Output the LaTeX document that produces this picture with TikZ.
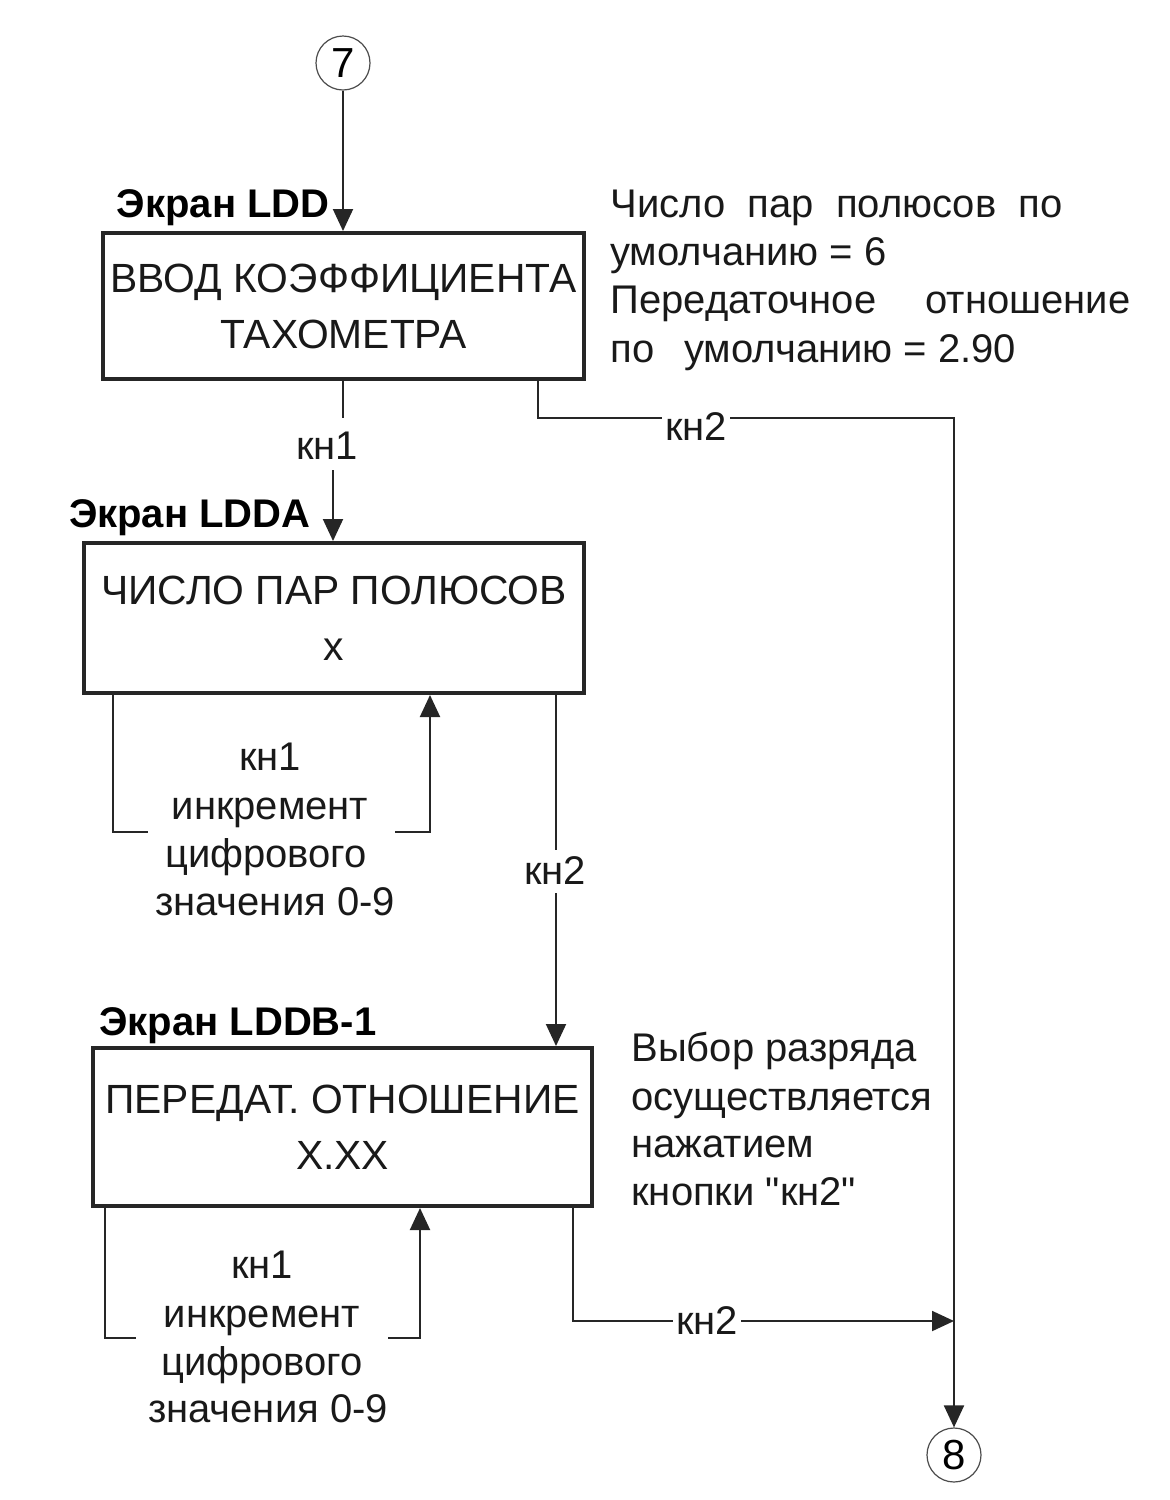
\documentclass[tikz,border=0pt]{standalone}
\usepackage{fontspec}
\setmainfont{Liberation Sans}[Ligatures=TeXOff]
\usetikzlibrary{arrows.meta}
\begin{document}
\begin{tikzpicture}[x=0.5pt,y=-0.5pt,
  conn/.style={draw=black!85, line width=1pt},
  arr/.style={-{Triangle[length=11pt,width=10pt]}},
  box/.style={draw=black!85, line width=2pt, rectangle, align=center,
    font=\fontsize{20.4pt}{28pt}\selectfont, inner sep=0pt, text=black!90},
  circ/.style={circle, draw=black!70, line width=0.6pt, minimum size=27pt,
    inner sep=0pt, font=\fontsize{21pt}{24pt}\selectfont},
  txt/.style={font=\fontsize{20pt}{24pt}\selectfont, inner sep=0pt, text=black!90},
  lbl/.style={txt, fill=white, inner sep=1.5pt},
  scr/.style={font=\bfseries\fontsize{20pt}{24pt}\selectfont, inner sep=0pt},
]
\useasboundingbox (0,0) rectangle (1170,1500);

% connector circles
\node[circ] (c7) at (343,63) {7};
\node[circ] (c8) at (954,1455) {8};

% boxes
\node[box, minimum width=240.5pt, minimum height=73pt] (b1) at (343.5,306)
  {ВВОД КОЭФФИЦИЕНТА\\ТАХОМЕТРА};
\node[box, minimum width=250pt, minimum height=75pt] (b2) at (334,618)
  {ЧИСЛО ПАР ПОЛЮСОВ\\x};
\node[box, minimum width=249.5pt, minimum height=79pt] (b3) at (342.5,1127)
  {ПЕРЕДАТ. ОТНОШЕНИЕ\\X.XX};

% screen titles
\node[scr, anchor=base east] (s1) at (330,217) {Экран LDD};
\node[scr, anchor=base east] (s2) at (311,527) {Экран LDDA};
\node[scr, anchor=base west] (s3) at (99,1035) {Экран LDDB-1};

% annotation 1
\node[txt, anchor=base west] (n1) at (610,217) {\makebox[226pt][s]{Число пар полюсов по}};
\node[txt, anchor=base west] (n2) at (610,265) {умолчанию = 6};
\node[txt, anchor=base west] (n3) at (610,313) {\makebox[260pt][s]{Передаточное отношение}};
\node[txt, anchor=base west] (n4) at (610,362) {по\hspace{15pt}умолчанию = 2.90};

% annotation 2
\node[txt, anchor=base west] (m1) at (631,1061) {Выбор разряда};
\node[txt, anchor=base west] (m2) at (631,1110) {осуществляется};
\node[txt, anchor=base west] (m3) at (631,1157) {нажатием};
\node[txt, anchor=base west] (m4) at (631,1205) {кнопки "кн2"};

% loop texts under box 2
\node[txt, anchor=base] (a1) at (270,770) {кн1};
\node[txt, anchor=base] (a2) at (270,819) {инкремент};
\node[txt, anchor=base] (a3) at (266,867) {цифрового};
\node[txt, anchor=base] (a4) at (275,915) {значения 0-9};

% loop texts under box 3
\node[txt, anchor=base] (d1) at (262,1278) {кн1};
\node[txt, anchor=base] (d2) at (262,1327) {инкремент};
\node[txt, anchor=base] (d3) at (262,1375) {цифрового};
\node[txt, anchor=base] (d4) at (268,1422) {значения 0-9};

% 7 -> box 1
\draw[conn, arr] (c7) -- (c7 |- b1.north);

% box 1 -> box 2 (кн1)
\coordinate (k1a) at (343,418);
\coordinate (k1b) at (333,470);
\node[txt] (k1) at (327,446) {кн1};
\draw[conn] (b1.south -| k1a) -- (k1a);
\draw[conn, arr] (k1b) -- (k1b |- b2.north);

% box 1 -> 8 (кн2)
\coordinate (p1) at (538,418);
\coordinate (p2) at (954,418);
\draw[conn, arr] (b1.south -| p1) -- (p1) -- (p2) -- (p2 |- c8.north);
\node[lbl] (k2) at (696,427) {кн2};

% box 2 loop
\coordinate (l2a) at (113,832);
\coordinate (l2b) at (148,832);
\coordinate (l2c) at (395,832);
\coordinate (l2d) at (430,832);
\draw[conn] (b2.south -| l2a) -- (l2a) -- (l2b);
\draw[conn, arr] (l2c) -- (l2d) -- (l2d |- b2.south);

% box 2 -> box 3 (кн2)
\coordinate (q1) at (556,850);
\coordinate (q2) at (556,893);
\node[txt] (k3) at (555,871) {кн2};
\draw[conn] (b2.south -| q1) -- (q1);
\draw[conn, arr] (q2) -- (q2 |- b3.north);

% box 3 loop
\coordinate (l3a) at (105,1338);
\coordinate (l3b) at (136,1338);
\coordinate (l3c) at (388,1338);
\coordinate (l3d) at (420,1338);
\draw[conn] (b3.south -| l3a) -- (l3a) -- (l3b);
\draw[conn, arr] (l3c) -- (l3d) -- (l3d |- b3.south);

% box 3 -> joins line to 8 (кн2)
\coordinate (r1) at (573,1321);
\draw[conn, arr] (b3.south -| r1) -- (r1) -- (r1 -| p2);
\node[lbl] (k4) at (707,1321) {кн2};
\end{tikzpicture}
\end{document}
